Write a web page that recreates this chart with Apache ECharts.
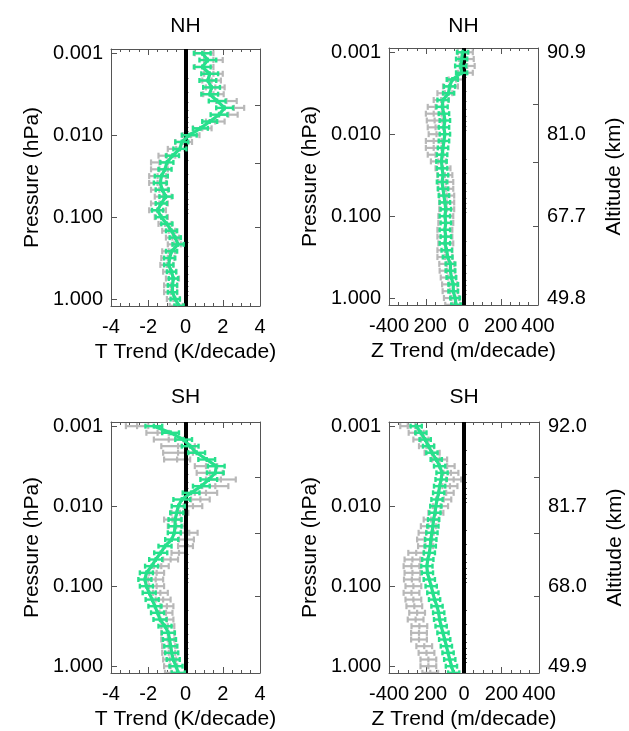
<!DOCTYPE html>
<html><head><meta charset="utf-8">
<script src="https://cdn.jsdelivr.net/npm/echarts@6/dist/echarts.min.js"></script>
<style>html,body{margin:0;padding:0;background:#fff}#c{width:629px;height:731px}</style>
</head><body><div id="c"></div>
<script>
// Pressure levels (hPa)
const pressure = [0.001,0.00121,0.00147,0.00178,0.00215,0.00261,0.00316,0.00383,0.00464,0.00562,0.00681,0.00825,
  0.01,0.0121,0.0147,0.0178,0.0215,0.0261,0.0316,0.0383,0.0464,0.0562,0.0681,0.0825,
  0.1,0.121,0.147,0.178,0.215,0.261,0.316,0.383,0.464,0.562,0.681,0.825,1.0,1.21];

// NH temperature trend (K/decade)
const nhTGreen = [0.9,1.2,0.9,1.3,1.2,1.4,1.3,1.7,2.1,1.8,1.3,0.8,0.2,-0.2,-0.3,-0.7,-1.0,-1.1,-1.3,-1.35,-1.25,-1.05,-1.3,-1.5,-1.3,-1.0,-0.75,-0.55,-0.4,-0.75,-0.85,-0.9,-0.75,-0.65,-0.7,-0.7,-0.55,-0.35];
const nhTGreenErr = [0.45,0.45,0.45,0.45,0.45,0.45,0.45,0.45,0.45,0.45,0.4,0.4,0.4,0.35,0.35,0.35,0.35,0.35,0.35,0.35,0.35,0.35,0.3,0.3,0.3,0.3,0.3,0.3,0.3,0.3,0.3,0.25,0.25,0.25,0.25,0.25,0.25,0.25];
const nhTGray = [1.0,1.5,1.0,1.5,1.4,1.6,1.5,2.2,2.6,2.3,1.6,0.9,0.3,-0.1,-0.5,-1.0,-1.4,-1.4,-1.5,-1.5,-1.4,-1.2,-1.4,-1.5,-1.3,-1.1,-0.9,-0.7,-0.6,-0.9,-0.95,-1.0,-0.85,-0.7,-0.8,-0.8,-0.65,-0.5];
const nhTGrayErr = [0.5,0.5,0.5,0.5,0.5,0.5,0.55,0.55,0.55,0.5,0.5,0.5,0.45,0.45,0.45,0.45,0.45,0.45,0.45,0.45,0.45,0.45,0.45,0.45,0.35,0.35,0.35,0.35,0.35,0.35,0.35,0.35,0.35,0.35,0.35,0.35,0.35,0.35];

// NH geopotential height trend (m/decade)
const nhZGreen = [-5,-10,-15,-10,-60,-75,-80,-110,-115,-105,-100,-105,-100,-105,-110,-115,-118,-115,-110,-115,-110,-105,-100,-95,-100,-95,-100,-95,-100,-90,-85,-70,-70,-65,-55,-55,-45,-40];
const nhZGreenErr = [30,30,30,30,30,30,30,30,30,28,28,28,28,28,28,28,28,28,28,28,28,28,28,28,28,28,28,28,28,28,26,26,26,26,26,26,26,26];
const nhZGray = [10,15,20,10,-40,-70,-100,-120,-150,-160,-155,-150,-145,-160,-160,-150,-135,-110,-100,-95,-95,-90,-90,-90,-95,-95,-100,-100,-95,-100,-100,-90,-88,-82,-75,-72,-65,-58];
const nhZGrayErr = [40,40,40,40,40,40,40,40,42,42,42,42,42,42,42,42,40,40,40,40,40,40,40,40,40,40,40,40,40,40,40,40,40,40,40,40,40,40];

// SH temperature trend (K/decade)
const shTGreen = [-1.7,-0.8,-0.1,0.25,0.6,1.14,1.65,1.6,1.25,0.85,0.3,-0.2,-0.39,-0.47,-0.56,-0.56,-0.6,-0.74,-1.1,-1.33,-1.6,-1.82,-2.1,-2.18,-2.1,-1.95,-1.79,-1.64,-1.5,-1.37,-1.1,-0.92,-0.86,-0.79,-0.74,-0.66,-0.51,-0.39];
const shTGreenErr = [0.45,0.45,0.45,0.45,0.45,0.45,0.45,0.45,0.45,0.45,0.45,0.45,0.35,0.35,0.35,0.35,0.35,0.35,0.35,0.35,0.35,0.35,0.35,0.35,0.35,0.35,0.35,0.35,0.35,0.35,0.35,0.35,0.35,0.35,0.35,0.35,0.35,0.35];
const shTGray = [-2.6,-1.5,-0.9,-0.4,-0.4,-0.45,1.1,1.3,1.9,1.6,1.1,0.8,0.4,-0.3,-0.7,-0.5,0.2,0.05,0.0,-0.35,-0.8,-1.3,-1.55,-1.6,-1.55,-1.35,-1.2,-1.0,-1.05,-1.0,-0.95,-0.95,-0.95,-0.9,-0.9,-0.85,-0.8,-0.75];
const shTGrayErr = [0.6,0.6,0.8,0.9,0.8,0.7,0.6,0.7,0.8,0.7,0.6,0.5,0.5,0.45,0.45,0.45,0.45,0.4,0.4,0.4,0.4,0.4,0.4,0.4,0.4,0.4,0.4,0.35,0.35,0.35,0.35,0.35,0.35,0.35,0.35,0.35,0.35,0.35];

// SH geopotential height trend (m/decade)
const shZGreen = [-255,-230,-207,-189,-171,-148,-130,-117,-122,-130,-135,-144,-150,-155,-162,-166,-171,-177,-180,-185,-193,-198,-195,-185,-175,-166,-157,-144,-135,-130,-122,-112,-103,-94,-85,-76,-67,-55];
const shZGreenErr = [30,30,30,30,30,30,30,30,30,30,30,30,30,30,30,30,30,30,30,30,30,30,30,30,30,30,30,30,30,30,30,30,30,30,30,30,30,30];
const shZGray = [-300,-255,-230,-200,-170,-130,-90,-70,-55,-75,-95,-108,-125,-150,-175,-190,-202,-210,-205,-255,-275,-280,-275,-278,-270,-280,-270,-265,-250,-258,-238,-240,-240,-212,-200,-190,-190,-180];
const shZGrayErr = [40,40,40,40,40,40,40,40,40,40,40,40,40,40,40,40,40,40,40,42,42,42,42,42,42,42,42,42,42,42,42,42,42,42,42,42,42,42];

// Tick labels / positions
const pressureTicks = [0.001, 0.01, 0.1, 1];
const pressureLabels = ['0.001', '0.010', '0.100', '1.000'];
const pressureMinorTicks = [0.002,0.003,0.004,0.005,0.006,0.007,0.008,0.009,0.02,0.03,0.04,0.05,0.06,0.07,0.08,0.09,0.2,0.3,0.4,0.5,0.6,0.7,0.8,0.9];
const altitudeTicks = [0.0043, 0.0219, 0.132];
const altNH = ['90.9','81.0','67.7','49.8'];
const altSH = ['92.0','81.7','68.0','49.9'];
const tTickLabels = ['-4','-2','0','2','4'];
const zTickLabels = ['-400','200','0','200','400'];
const titles = ['NH','NH','SH','SH'];

const LOGMIN = -3.052, LOGMAX = 0.085;
const FONT = '"Liberation Sans", Arial, Helvetica, sans-serif';
const GREEN = '#27e08c', GRAY = '#b8b8b8', FRAME = '#555';
const lg = v => Math.log10(v);

const panels = [
  {grid:{left:111, top:49, width:149, height:257}, min:-4, max:4, interval:2, labels:tTickLabels, xName:'T Trend (K/decade)', green:nhTGreen, greenErr:nhTGreenErr, gray:nhTGray, grayErr:nhTGrayErr, alt:null},
  {grid:{left:389, top:48, width:149, height:257}, min:-400, max:400, interval:200, labels:zTickLabels, xName:'Z Trend (m/decade)', green:nhZGreen, greenErr:nhZGreenErr, gray:nhZGray, grayErr:nhZGrayErr, alt:altNH},
  {grid:{left:111, top:422, width:149, height:255}, min:-4, max:4, interval:2, labels:tTickLabels, xName:'T Trend (K/decade)', green:shTGreen, greenErr:shTGreenErr, gray:shTGray, grayErr:shTGrayErr, alt:null},
  {grid:{left:389, top:422, width:150, height:255}, min:-400, max:400, interval:200, labels:zTickLabels, xName:'Z Trend (m/decade)', green:shZGreen, greenErr:shZGreenErr, gray:shZGray, grayErr:shZGrayErr, alt:altSH}
];

function errItem(color, lw, cap) {
  return function (params, api) {
    const x = api.value(0), y = api.value(1), e = api.value(2);
    const c = api.coord([x, y]);
    const l = api.coord([x - e, y]);
    const r = api.coord([x + e, y]);
    const st = {stroke: color, lineWidth: lw};
    return {type: 'group', children: [
      {type: 'line', shape: {x1: l[0], y1: c[1], x2: r[0], y2: c[1]}, style: st},
      {type: 'line', shape: {x1: l[0], y1: c[1] - cap, x2: l[0], y2: c[1] + cap}, style: st},
      {type: 'line', shape: {x1: r[0], y1: c[1] - cap, x2: r[0], y2: c[1] + cap}, style: st},
      {type: 'line', shape: {x1: c[0], y1: c[1] - cap, x2: c[0], y2: c[1] + cap}, style: st}
    ]};
  };
}

const labelStyle = {fontSize: 20, color: '#000', fontFamily: FONT};
const nameStyle = {fontSize: 21, color: '#000', fontFamily: FONT};
const decadeIndex = v => Math.round(v - lg(pressureTicks[0]));

const grid = [], xAxis = [], yAxis = [], series = [], graphic = [];
panels.forEach((P, gi) => {
  grid.push(Object.assign({containLabel: false}, P.grid));
  const xb = xAxis.length;
  const xCommon = {gridIndex: gi, type: 'value', min: P.min, max: P.max, interval: P.interval,
    axisLine: {show: true, onZero: false, lineStyle: {color: FRAME, width: 1}},
    axisTick: {show: true, inside: true, length: 6, lineStyle: {color: FRAME}},
    minorTick: {show: true, splitNumber: 4, length: 3, lineStyle: {color: FRAME}},
    splitLine: {show: false}};
  const labs = P.labels;
  xAxis.push(Object.assign({}, xCommon, {position: 'bottom',
    axisLabel: Object.assign({margin: 11, hideOverlap: false, showMinLabel: true, showMaxLabel: true,
      formatter: v => {
        const s = labs[Math.round((v - P.min) / P.interval)];
        // a negative tick whose label shows no sign sits slightly right, as in the source figure
        return (v < 0 && s.charAt(0) !== '-') ? '{p|' + s + '}' : s;
      },
      rich: {p: Object.assign({padding: [0, 0, 0, 8]}, labelStyle)}}, labelStyle),
    name: P.xName, nameLocation: 'middle', nameGap: 36, nameTextStyle: nameStyle}));
  xAxis.push(Object.assign({}, xCommon, {position: 'top', axisLabel: {show: false}}));

  const yb = yAxis.length;
  const yCommon = {gridIndex: gi, type: 'value', min: LOGMIN, max: LOGMAX, inverse: true,
    splitLine: {show: false}, minorTick: {show: false}, minorSplitLine: {show: false}};
  yAxis.push(Object.assign({}, yCommon, {position: 'left',
    axisLine: {show: true, onZero: false, lineStyle: {color: FRAME, width: 1}},
    axisTick: {show: true, inside: true, length: 6, customValues: pressureTicks.map(lg), lineStyle: {color: FRAME}},
    axisLabel: Object.assign({margin: 8, hideOverlap: false, customValues: pressureTicks.map(lg),
      formatter: v => pressureLabels[decadeIndex(v)]}, labelStyle),
    name: 'Pressure (hPa)', nameLocation: 'middle', nameRotate: 90, nameGap: 68, nameTextStyle: nameStyle}));
  yAxis.push(Object.assign({}, yCommon, {position: 'left',
    axisLine: {show: false},
    axisTick: {show: true, inside: true, length: 3, customValues: pressureMinorTicks.map(lg), lineStyle: {color: FRAME}},
    axisLabel: {show: false}}));
  yAxis.push(Object.assign({}, yCommon, {position: 'right',
    axisLine: {show: true, onZero: false, lineStyle: {color: FRAME, width: 1}},
    axisTick: {show: true, inside: true, length: 5, customValues: altitudeTicks.map(lg), lineStyle: {color: FRAME}},
    axisLabel: {show: false}}));
  if (P.alt) {
    const alt = P.alt;
    yAxis.push(Object.assign({}, yCommon, {position: 'right',
      axisLine: {show: false},
      axisTick: {show: false},
      axisLabel: Object.assign({margin: 9, hideOverlap: false, customValues: pressureTicks.map(lg),
        formatter: v => alt[decadeIndex(v)]}, labelStyle),
      name: 'Altitude (km)', nameLocation: 'middle', nameRotate: 90, nameGap: 66, nameTextStyle: nameStyle}));
  }

  series.push({type: 'custom', coordinateSystem: 'cartesian2d', xAxisIndex: xb, yAxisIndex: yb,
    renderItem: errItem(GRAY, 2.2, 3), encode: {x: 0, y: 1}, clip: true, silent: true, z: 2,
    data: pressure.map((p, i) => [P.gray[i], lg(p), P.grayErr[i]])});
  series.push({type: 'custom', coordinateSystem: 'cartesian2d', xAxisIndex: xb, yAxisIndex: yb,
    renderItem: errItem(GREEN, 2.4, 2.5), encode: {x: 0, y: 1}, clip: true, silent: true, z: 4,
    data: pressure.map((p, i) => [P.green[i], lg(p), P.greenErr[i]])});
  series.push({type: 'line', xAxisIndex: xb, yAxisIndex: yb, symbol: 'none', silent: true, z: 5,
    lineStyle: {color: GREEN, width: 3.2}, clip: true,
    data: pressure.map((p, i) => [P.green[i], lg(p)]),
    markLine: {silent: true, z: 3, symbol: ['none', 'none'], label: {show: false},
      lineStyle: {color: '#000', width: 4, type: 'solid'}, data: [{xAxis: 0}]}});

  graphic.push({type: 'text', x: P.grid.left + P.grid.width / 2, y: gi < 2 ? 26 : 397,
    style: {text: titles[gi], textAlign: 'center', textVerticalAlign: 'middle', font: '21px ' + FONT, fill: '#000'}});
});

const chart = echarts.init(document.getElementById('c'), null, {renderer: 'canvas'});
chart.setOption({animation: false, backgroundColor: '#fff', grid, xAxis, yAxis, series, graphic});
</script></body></html>
